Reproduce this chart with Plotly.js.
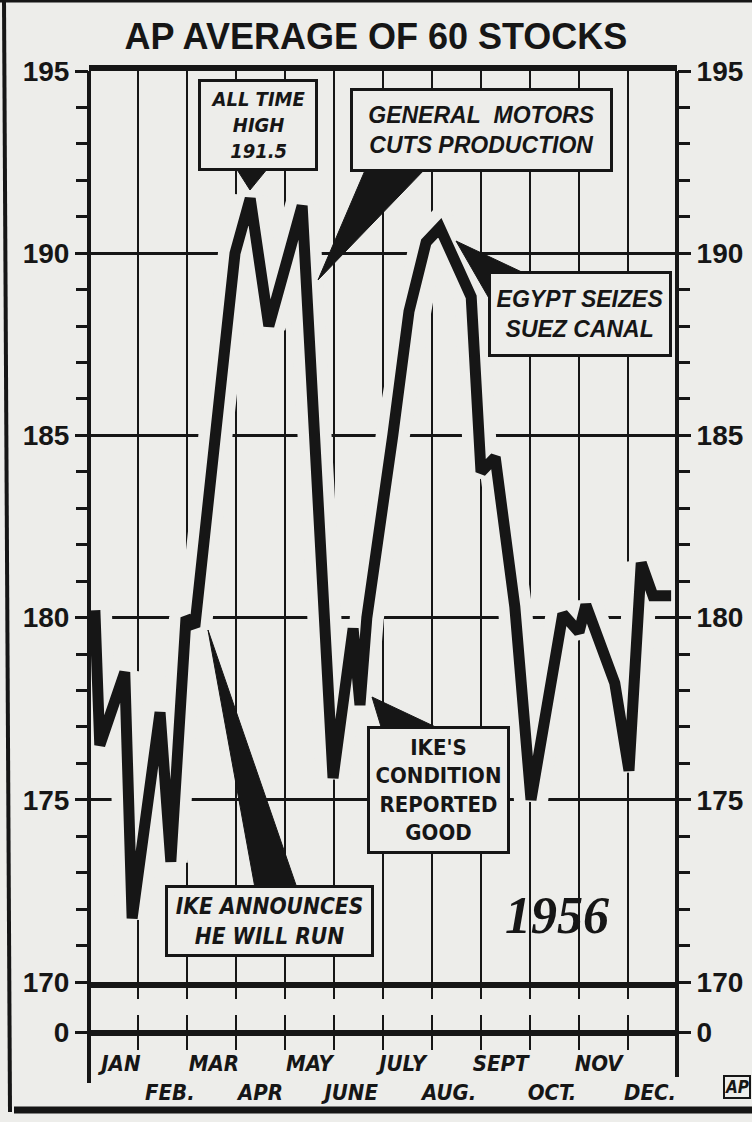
<!DOCTYPE html>
<html>
<head>
<meta charset="utf-8">
<script src="https://cdn.plot.ly/plotly-3.0.1.min.js"></script>
<style>
  html, body { margin: 0; padding: 0; background: #ededea; }
  #chart { width: 752px; height: 1122px; }
</style>
</head>
<body>
<div id="chart"></div>
<script>
// ---------------- DATA ----------------
// month names used as x-axis tick labels (two staggered rows)
const months = ['JAN', 'FEB.', 'MAR', 'APR', 'MAY', 'JUNE', 'JULY', 'AUG.', 'SEPT', 'OCT.', 'NOV', 'DEC.'];
// AP average of 60 stocks, 1956: position in months (0 = start of Jan) and value
const xMonth = [0.12, 0.22, 0.73, 0.88, 1.45, 1.67, 1.98, 2.16, 2.98, 3.14, 3.29, 3.67,
                4.35, 4.98, 5.39, 5.53, 5.67, 6.20, 6.53, 6.88, 7.16, 7.80, 8.00, 8.29,
                8.69, 9.02, 9.67, 10.00, 10.14, 10.73, 11.02, 11.27, 11.51, 11.88];
const avg    = [180.2, 176.5, 178.5, 171.75, 177.4, 173.3, 180.0, 179.75, 190.0, 190.9, 191.5, 188.0,
                191.3, 175.6, 179.7, 177.6, 180.0, 185.0, 188.4, 190.3, 190.7, 188.8, 184.0, 184.4,
                180.3, 175.0, 180.1, 179.6, 180.35, 178.2, 175.8, 181.5, 180.6, 180.6];
// y-axis labels
const yTicks = [170, 175, 180, 185, 190, 195];
const yBreakTick = [0];

// ---------------- LAYOUT HELPERS ----------------
const BG = '#ededea';
const INK = '#161616';
const NARROW = '"Liberation Sans Narrow", "DejaVu Sans Condensed", "Liberation Sans", sans-serif';
const SANS = '"Liberation Sans", Arial, sans-serif';
const SERIF = '"Liberation Serif", "DejaVu Serif", serif';
// label placement along x (months), for the staggered rows
const labelPos = [0.65, 1.65, 2.55, 3.5, 4.5, 5.35, 6.4, 7.35, 8.4, 9.45, 10.4, 11.45];

const L = 89, R = 677, T = 71, B = 1083;
const px = x => (x - L) / (R - L);
const py = y => (B - y) / (B - T);

const axisFont = {family: SANS, size: 28, weight: 'bold', color: INK};

const traces = [
  // paper-coloured halo that breaks the grid around the line
  {x: xMonth, y: avg, type: 'scatter', mode: 'lines', xaxis: 'x', yaxis: 'y',
   line: {color: BG, width: 34}, hoverinfo: 'skip'},
  {x: xMonth, y: avg, type: 'scatter', mode: 'lines', xaxis: 'x', yaxis: 'y',
   line: {color: INK, width: 11}, hoverinfo: 'skip'},
  {x: [], y: [], type: 'scatter', xaxis: 'x', yaxis: 'y3'},
  {x: [], y: [], type: 'scatter', xaxis: 'x2', yaxis: 'y2'},
  {x: [], y: [], type: 'scatter', xaxis: 'x2', yaxis: 'y4'}
];

const yCommon = {
  tickmode: 'array', tickvals: yTicks, ticktext: yTicks.map(String),
  ticks: 'outside', ticklen: 13, tickwidth: 3, tickcolor: INK,
  tickfont: axisFont, zeroline: false, showline: false, fixedrange: true,
  minor: {tick0: 170, dtick: 1, ticks: 'outside', ticklen: 12, tickwidth: 3, tickcolor: INK, showgrid: false}
};
const y2Common = {
  range: [-1, 1], tickmode: 'array', tickvals: yBreakTick, ticktext: yBreakTick.map(String),
  ticks: 'outside', ticklen: 13, tickwidth: 3, tickcolor: INK, tickfont: axisFont,
  showgrid: false, showline: false, fixedrange: true
};

const layout = {
  width: 752, height: 1122,
  margin: {l: L, r: 752 - R, t: T, b: 1122 - B, pad: 0},
  paper_bgcolor: BG, plot_bgcolor: BG,
  showlegend: false,
  title: {text: 'AP AVERAGE OF 60 STOCKS', x: 0.5, xanchor: 'center', y: 1 - 36 / 1122, yanchor: 'middle',
          font: {family: SANS, size: 36, weight: 'bold', color: INK}},
  xaxis: {domain: [0, 1], range: [0, 12], anchor: 'y', tick0: 0, dtick: 1,
          showgrid: true, gridcolor: INK, gridwidth: 2.5,
          ticks: 'outside', ticklen: 11, tickwidth: 2.5, tickcolor: INK, showticklabels: false,
          showline: true, linecolor: INK, linewidth: 6, mirror: true, zeroline: false, fixedrange: true},
  yaxis: Object.assign({domain: [py(982), 1], range: [170, 195], anchor: 'x',
          showgrid: true, gridcolor: INK, gridwidth: 3}, yCommon),
  yaxis3: Object.assign({range: [170, 195], anchor: 'x', overlaying: 'y', side: 'right', showgrid: false}, yCommon),
  xaxis2: {domain: [0, 1], range: [0, 12], anchor: 'y2', tickmode: 'array', tickvals: labelPos,
           ticktext: months.map((m, i) => i % 2 === 0 ? m : '\u00a0<br>' + m),
           tickangle: 0, ticks: '', showgrid: false, showline: false, zeroline: false, fixedrange: true,
           ticklabelstandoff: -2,
           tickfont: {family: NARROW, size: 22, weight: 'bold', style: 'italic', color: INK},
           minor: {tick0: 0, dtick: 1, showgrid: true, gridcolor: INK, gridwidth: 2.5, ticks: ''}},
  yaxis2: Object.assign({domain: [py(1050), py(1015)], anchor: 'x2',
           zeroline: true, zerolinecolor: INK, zerolinewidth: 6}, y2Common),
  yaxis4: Object.assign({anchor: 'x2', overlaying: 'y2', side: 'right', zeroline: false}, y2Common),
  shapes: [],
  annotations: []
};

// frame and axis verticals
const S = layout.shapes;
const line = (x0, y0, x1, y1, w) => S.push({type: 'line', xref: 'paper', yref: 'paper',
  x0: px(x0), y0: py(y0), x1: px(x1), y1: py(y1), line: {color: INK, width: w}, layer: 'above'});
line(89, 71, 89, 1083, 4);
line(677, 71, 677, 1077, 4);
line(4, 0, 10, 1112, 4);
line(14, 1110, 760, 1110, 7);
line(0, 1, 760, 1, 3);

// pointer wedges
const wedge = pts => S.push({type: 'path', xref: 'paper', yref: 'paper', layer: 'above',
  path: 'M' + pts.map(p => px(p[0]) + ',' + py(p[1])).join(' L') + ' Z',
  fillcolor: INK, line: {color: INK, width: 1}});
wedge([[236, 168], [268, 168], [250, 190]]);
wedge([[366, 168], [426, 168], [318, 280]]);
wedge([[456, 241], [526, 274], [490, 300]]);
wedge([[372, 697], [382, 730], [442, 730]]);
wedge([[208, 630], [255, 888], [297, 888]]);

// annotation boxes
const A = layout.annotations;
const box = (text, x0, y0, x1, y1, font) => A.push({
  text: text, xref: 'paper', yref: 'paper', x: px((x0 + x1) / 2), y: py((y0 + y1) / 2),
  xanchor: 'center', yanchor: 'middle', showarrow: false, align: 'center', valign: 'middle',
  width: x1 - x0 - 3, height: y1 - y0 - 3, borderpad: 0, borderwidth: 3, bordercolor: INK, bgcolor: BG,
  font: font});
box('ALL TIME<br>HIGH<br>191.5', 199, 81, 316, 170,
    {family: NARROW, size: 20, weight: 'bold', style: 'italic', color: INK});
box('GENERAL\u00a0\u00a0MOTORS<br>CUTS PRODUCTION', 351, 89, 611, 170,
    {family: SANS, size: 23, weight: 'bold', style: 'italic', color: INK});
box('EGYPT SEIZES<br>SUEZ CANAL', 489, 272, 670, 355,
    {family: SANS, size: 23, weight: 'bold', style: 'italic', color: INK});
box('IKE\'S<br>CONDITION<br>REPORTED<br>GOOD', 368, 727, 508, 852,
    {family: NARROW, size: 22, weight: 'bold', color: INK});
box('IKE ANNOUNCES<br>HE WILL RUN', 166, 886, 372, 955,
    {family: NARROW, size: 22.5, weight: 'bold', style: 'italic', color: INK});
A.push({text: '1956', xref: 'paper', yref: 'paper', x: px(557), y: py(915), xanchor: 'center', yanchor: 'middle',
  showarrow: false, font: {family: SERIF, size: 52, weight: 'bold', style: 'italic', color: INK}});
A.push({text: 'AP', xref: 'paper', yref: 'paper', x: px(723), y: py(1087), xanchor: 'left', yanchor: 'middle',
  showarrow: false, borderwidth: 2, bordercolor: INK, borderpad: 0, bgcolor: BG,
  font: {family: NARROW, size: 17, weight: 'bold', style: 'italic', color: INK}});

Plotly.newPlot('chart', traces, layout, {staticPlot: true, displayModeBar: false});
</script>
</body>
</html>
